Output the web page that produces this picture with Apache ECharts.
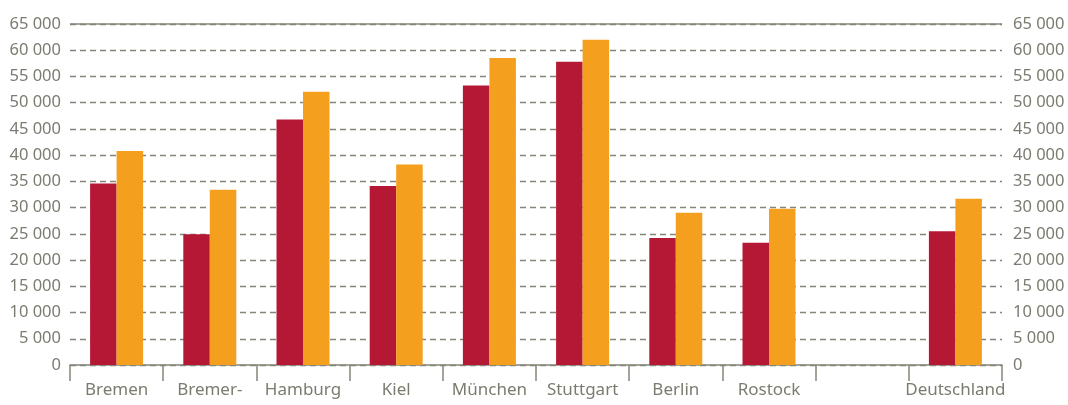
<!DOCTYPE html>
<html>
<head>
<meta charset="utf-8">
<script src="https://cdn.jsdelivr.net/npm/echarts@6/dist/echarts.min.js"></script>
<style>
  html, body { margin: 0; padding: 0; background: #fff; }
  #chart { width: 1068px; height: 405px; }
</style>
</head>
<body>
<div id="chart"></div>
<script>
// Kategorien (Städte)
const categories = ['Bremen', 'Bremer-', 'Hamburg', 'Kiel', 'München', 'Stuttgart', 'Berlin', 'Rostock', '', 'Deutschland']
// erste Reihe (dunkelrot)
const seriesRed = [34600, 24900, 46800, 34100, 53300, 57800, 24200, 23300, null, 25500]
// zweite Reihe (orange)
const seriesOrange = [40800, 33400, 52100, 38200, 58500, 62000, 29000, 29800, null, 31700]
// Achsenbereich
const yMin = 0
const yMax = 65000
const yStep = 5000

const textColor = '#7b7b70'
const lineColor = '#85857a'
const fontFamily = '"Noto Sans", sans-serif'

// Tausender mit Leerzeichen trennen
const fmt = (v) => String(v).replace(/\B(?=(\d{3})+(?!\d))/g, ' ')

const chart = echarts.init(document.getElementById('chart'))

const yAxisBase = {
  type: 'value',
  min: yMin,
  max: yMax,
  interval: yStep,
  axisLine: { show: false },
  axisTick: { show: false },
  axisLabel: {
    color: textColor,
    fontSize: 16.5,
    fontFamily,
    formatter: fmt
  }
}

chart.setOption({
  animation: false,
  grid: {
    left: 70,
    right: 66,
    top: 24,
    bottom: 40
  },
  xAxis: {
    type: 'category',
    data: categories,
    axisLine: { lineStyle: { color: lineColor, width: 1.5 } },
    axisTick: {
      show: true,
      length: 16,
      lineStyle: { color: lineColor, width: 1.5 }
    },
    axisLabel: {
      interval: 0,
      color: textColor,
      fontSize: 17,
      fontFamily,
      margin: 17
    }
  },
  yAxis: [
    {
      ...yAxisBase,
      position: 'left',
      axisLabel: { ...yAxisBase.axisLabel, margin: 9 },
      splitLine: {
        lineStyle: { color: lineColor, type: [6, 4], width: 1.3 }
      }
    },
    {
      ...yAxisBase,
      position: 'right',
      axisLabel: { ...yAxisBase.axisLabel, margin: 11 },
      splitLine: { show: false }
    }
  ],
  series: [
    {
      name: 'Reihe 1',
      type: 'bar',
      data: seriesRed,
      barWidth: 26.5,
      barGap: '0%',
      itemStyle: { color: '#b51835' },
      markLine: {
        silent: true,
        symbol: 'none',
        label: { show: false },
        lineStyle: { color: lineColor, type: 'solid', width: 1.5 },
        data: [{ yAxis: yMax }]
      }
    },
    {
      name: 'Reihe 2',
      type: 'bar',
      data: seriesOrange,
      barWidth: 26.5,
      barGap: '0%',
      itemStyle: { color: '#f59f1f' }
    }
  ]
})
</script>
</body>
</html>
